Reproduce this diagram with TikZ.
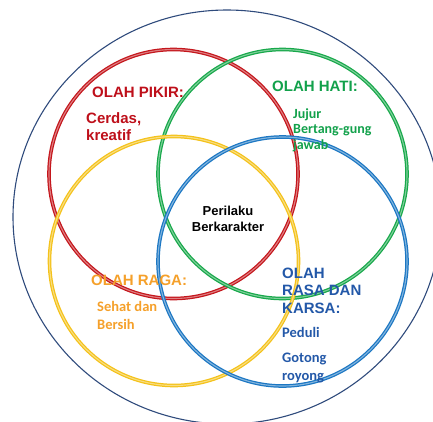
\documentclass[tikz,border=0pt]{standalone}
\usepackage{fontspec}
\newfontfamily\arialfont{Liberation Sans}
\newfontfamily\califont{Carlito}
\definecolor{ringred}{HTML}{C4161C}
\definecolor{ringgreen}{HTML}{17A84A}
\definecolor{ringyellow}{HTML}{F4C21A}
\definecolor{ringblue}{HTML}{1C77C3}
\definecolor{outerline}{HTML}{2F4B7C}
\definecolor{txtred}{HTML}{BE0F1A}
\definecolor{txtgreen}{HTML}{12A14B}
\definecolor{txtorange}{HTML}{F5A02A}
\definecolor{txtblue}{HTML}{2358A8}
\tikzset{
  ring/.style={line width=3.6pt},
  shine/.style={line width=1.1pt, opacity=0.45},
  headtext/.style={
    font={\arialfont\bfseries\fontsize{15}{17}\selectfont},
    anchor=base west,
    align=left,
    inner sep=0pt
  },
  bodytext/.style={
    font={\califont\bfseries\fontsize{14.5}{18}\selectfont},
    anchor=base west,
    align=left,
    inner sep=0pt
  },
  midtext/.style={
    font={\arialfont\bfseries\fontsize{13}{16}\selectfont},
    align=center,
    inner sep=0pt
  }
}

\begin{document}
\begin{tikzpicture}[x=1pt,y=-1pt]
\useasboundingbox (0,0) rectangle (433,421);
% outer boundary
\draw[outerline, line width=1.1pt] (227,217) ellipse [x radius=214, y radius=207];
% four rings
\coordinate (pikir) at (173.5,174);
\coordinate (hati) at (282.5,174);
\coordinate (raga) at (174,261);
\coordinate (rasa) at (282.5,261.5);
\foreach \c/\col in {pikir/ringred,hati/ringgreen,raga/ringyellow,rasa/ringblue} {
  \draw[ring, \col] (\c) circle (124.5);
  \draw[shine, white] (\c) circle (124.5);
}
% labels (anchored at the baseline of the last line)
\node[headtext, txtred] (pikirhead) at (92,97) {OLAH PIKIR:};
\node[headtext, txtred] (pikirbody) at (86,140) {Cerdas,\\kreatif};
\node[headtext, txtgreen] (hatihead) at (272,91) {OLAH HATI:};
\node[bodytext, txtgreen, font={\califont\bfseries\fontsize{14}{15.5}\selectfont}] (hatibody) at (293,149) {Jujur\\Bertang-gung\\jawab};
\node[midtext, black] (centre) at (228,219) {Perilaku\\Berkarakter};
\node[headtext, txtorange] (ragahead) at (91,285.5) {OLAH RAGA:};
\node[bodytext, txtorange] (ragabody) at (97,329.5) {Sehat dan\\Bersih};
\node[headtext, txtblue, font={\arialfont\bfseries\fontsize{15}{17.5}\selectfont}] (rasahead) at (282,313) {OLAH\\RASA DAN\\KARSA:};
\node[bodytext, txtblue] (rasabody1) at (282,337.5) {Peduli};
\node[bodytext, txtblue] (rasabody2) at (282,380.5) {Gotong\\royong};
\end{tikzpicture}
\end{document}
